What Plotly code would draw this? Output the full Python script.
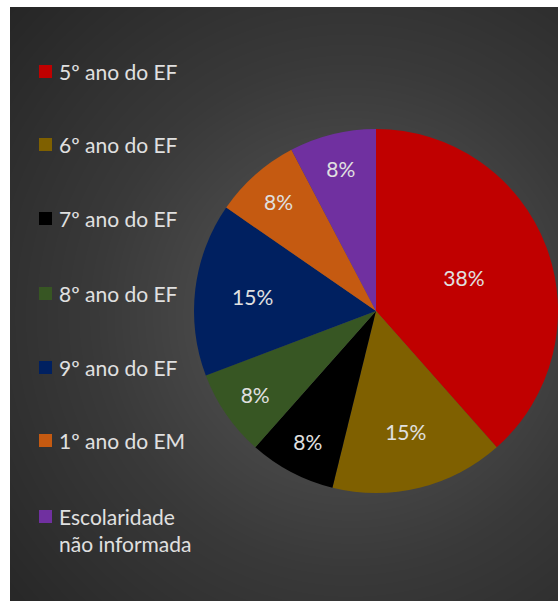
import numpy as np
import plotly.graph_objects as go

categories = ["5º ano do EF", "6º ano do EF", "7º ano do EF", "8º ano do EF",
              "9º ano do EF", "1º ano do EM", "Escolaridade<br>não informada"]
counts = [5, 2, 1, 1, 2, 1, 1]
colors = ["#C00000", "#7F6000", "#000000", "#375623", "#002060", "#C55A11", "#7030A0"]

W, H = 558, 601
FONT = "Lato"
TXT = "#E0E0E0"

# background radial gradient (decorative only)
gx = np.linspace(10, 558, 40)
gy = np.linspace(7, 601, 44)
X, Y = np.meshgrid(gx, gy)
D = np.sqrt((X - 350) ** 2 + (Y - 315) ** 2)
Z = -D

fig = go.Figure()
fig.add_trace(go.Heatmap(
    x=gx, y=gy, z=Z, zsmooth="best", showscale=False, hoverinfo="skip",
    colorscale=[[0, "#262626"], [0.45, "#393939"], [1, "#5a5a5a"]],
    xaxis="x", yaxis="y",
))

cx, cy, R = 376, 311, 182
fig.add_trace(go.Pie(
    labels=categories, values=counts, sort=False, direction="clockwise",
    rotation=0, marker=dict(colors=colors, line=dict(width=0)),
    texttemplate="%{percent:.0%}", textposition="inside",
    insidetextorientation="horizontal",
    textfont=dict(family=FONT, size=21, color=TXT),
    showlegend=False, hoverinfo="label+percent",
    domain=dict(x=[(cx - R) / W, min(1, (cx + R) / W)],
                y=[(H - cy - R) / H, (H - cy + R) / H]),
))

annotations = []
shapes = [dict(type="rect", xref="paper", yref="paper", x0=10 / W, x1=1, y0=0,
               y1=(H - 7) / H, fillcolor="#2b2b2b", line=dict(width=0), layer="below")]
ys = [71, 144, 218, 293, 367, 440, 530]
for lab, col, yc in zip(categories, colors, ys):
    first = 516 if "<br>" in lab else yc
    shapes.append(dict(type="rect", xref="paper", yref="paper",
                       x0=39 / W, x1=52 / W,
                       y0=(H - first - 7) / H, y1=(H - first + 6) / H,
                       fillcolor=col, line=dict(width=0)))
    annotations.append(dict(x=57 / W, y=(H - yc) / H, xref="paper", yref="paper",
                            text=lab, showarrow=False, xanchor="left", yanchor="middle",
                            align="left", font=dict(family=FONT, size=21, color=TXT)))

fig.update_layout(
    width=W, height=H, margin=dict(l=0, r=0, t=0, b=0),
    paper_bgcolor="white", plot_bgcolor="#333333",
    xaxis=dict(domain=[10 / W, 1], range=[10, 558], visible=False, fixedrange=True),
    yaxis=dict(domain=[0, (H - 7) / H], range=[601, 7], visible=False, fixedrange=True),
    shapes=shapes, annotations=annotations,
)

fig.write_html("out.html", config={"displayModeBar": False},
               post_script="document.body.style.margin='0';document.body.style.overflow='hidden';")
